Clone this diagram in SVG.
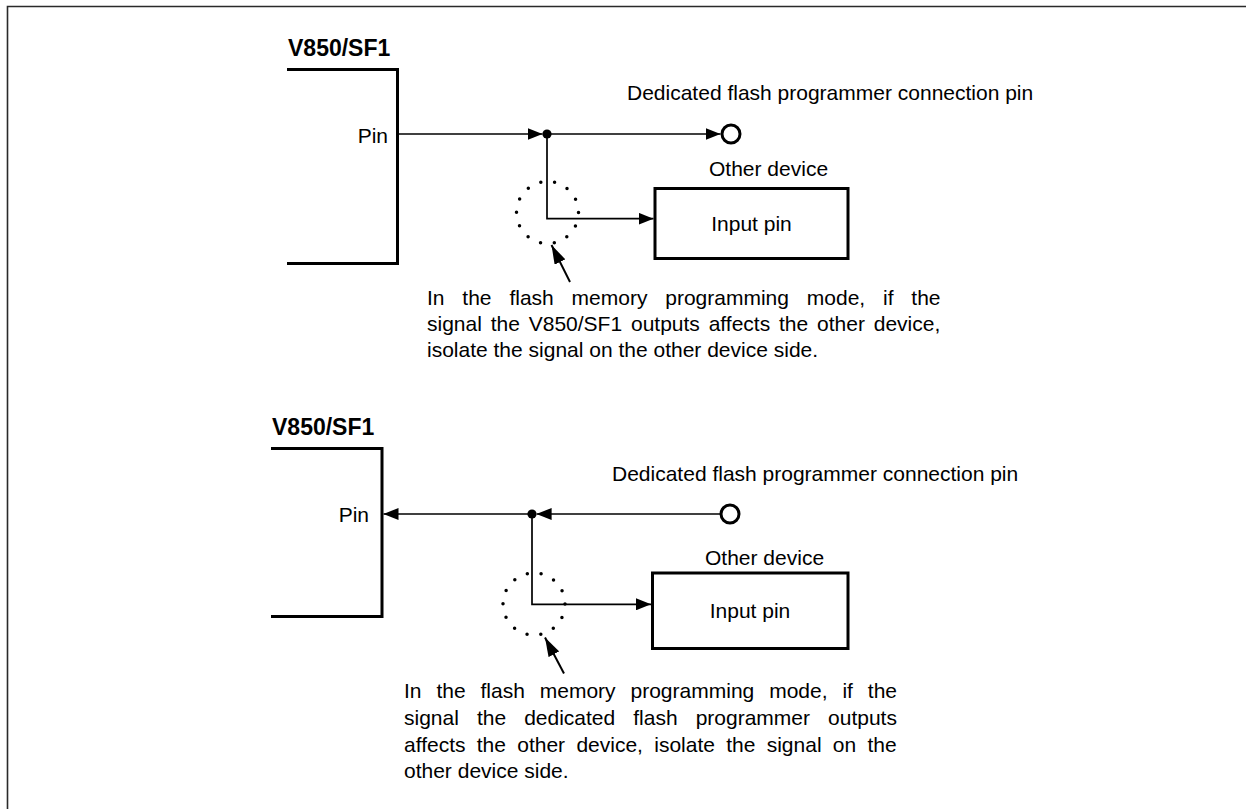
<svg xmlns="http://www.w3.org/2000/svg" width="1246" height="809" viewBox="0 0 1246 809">
<style>
  text { font-family: "Liberation Sans", Arial, sans-serif; fill: #000; }
  .lbl { font-size: 21px; }
  .ttl { font-size: 23px; font-weight: bold; }
  .par { font-size: 21px; }
  .chip { fill: none; stroke: #000; stroke-width: 3; }
  .box { fill: #fff; stroke: #000; stroke-width: 3; }
  .wire { fill: none; stroke: #000; stroke-width: 1.7; }
  .ptr { fill: none; stroke: #000; stroke-width: 2; }
  .term { fill: #fff; stroke: #000; stroke-width: 3; }
  .dotc { fill: none; stroke: #000; stroke-width: 3.5; stroke-linecap: round; stroke-dasharray: 0 13.91; }
  .frame { fill: none; stroke: #2a2a2a; stroke-width: 1.6; }
</style>
<defs>
  <marker id="arr" markerUnits="userSpaceOnUse" markerWidth="15" markerHeight="12" refX="15" refY="6" orient="auto">
    <path d="M0,0 L15,6 L0,12 z" fill="#000"/>
  </marker>
  <marker id="parr" markerUnits="userSpaceOnUse" markerWidth="19" markerHeight="12" refX="19" refY="6" orient="auto">
    <path d="M0,0 L19,6 L0,12 z" fill="#000"/>
  </marker>
</defs>
<rect width="1246" height="809" fill="#fff"/>
<path class="frame" d="M7.5,809 V6.5 H1246"/>

<!-- ===== Top figure ===== -->
<g id="chip1">
  <text class="ttl" x="288" y="56">V850/SF1</text>
  <path class="chip" d="M287,69.5 H397.5 V263.5 H287"/>
  <text class="lbl" x="388" y="143" text-anchor="end">Pin</text>
</g>
<g id="junction1"><circle cx="547" cy="134" r="4.6" fill="#000"/></g>
<g id="terminal1">
  <circle class="term" cx="731" cy="134" r="9"/>
  <text class="lbl" x="627" y="100">Dedicated flash programmer connection pin</text>
</g>
<g id="device1">
  <text class="lbl" x="709" y="176">Other device</text>
  <rect class="box" x="655" y="188.5" width="193" height="70"/>
  <text class="lbl" x="751.5" y="231" text-anchor="middle">Input pin</text>
</g>
<g id="isolate1">
  <circle class="dotc" cx="547.5" cy="212.5" r="31"/>
</g>
<g id="note1">
  <text class="par" x="427" y="305" word-spacing="12">In the flash memory programming mode, if the</text>
  <text class="par" x="427" y="331" word-spacing="3">signal the V850/SF1 outputs affects the other device,</text>
  <text class="par" x="427" y="357">isolate the signal on the other device side.</text>
</g>

<!-- ===== Bottom figure ===== -->
<g id="chip2">
  <text class="ttl" x="272" y="435">V850/SF1</text>
  <path class="chip" d="M271,448.5 H382 V616.5 H271"/>
  <text class="lbl" x="369" y="521.5" text-anchor="end">Pin</text>
</g>
<g id="junction2"><circle cx="532" cy="514" r="4.6" fill="#000"/></g>
<g id="terminal2">
  <circle class="term" cx="730" cy="514" r="9"/>
  <text class="lbl" x="612" y="480.5">Dedicated flash programmer connection pin</text>
</g>
<g id="device2">
  <text class="lbl" x="705" y="565">Other device</text>
  <rect class="box" x="652.5" y="573" width="195.5" height="75.5"/>
  <text class="lbl" x="750" y="618" text-anchor="middle">Input pin</text>
</g>
<g id="isolate2">
  <circle class="dotc" cx="534" cy="604" r="31"/>
</g>
<g id="note2">
  <text class="par" x="404" y="698.3" word-spacing="9.07">In the flash memory programming mode, if the</text>
  <text class="par" x="404" y="725" word-spacing="12.2">signal the dedicated flash programmer outputs</text>
  <text class="par" x="404" y="751.7" word-spacing="5.45">affects the other device, isolate the signal on the</text>
  <text class="par" x="404" y="778.3">other device side.</text>
</g>

<!-- ===== Connectors ===== -->
<g id="connectors">
  <line class="wire" x1="399" y1="134" x2="542.5" y2="134" marker-end="url(#arr)"/>
  <line class="wire" x1="547" y1="134" x2="720.5" y2="134" marker-end="url(#arr)"/>
  <path class="wire" d="M547,134 V218.7 H653.5" marker-end="url(#arr)"/>
  <line class="ptr" x1="570" y1="282" x2="551.5" y2="245" marker-end="url(#parr)"/>

  <line class="wire" x1="532" y1="514" x2="383.5" y2="514" marker-end="url(#arr)"/>
  <line class="wire" x1="720" y1="514" x2="536.6" y2="514" marker-end="url(#arr)"/>
  <path class="wire" d="M532,514 V604.3 H651" marker-end="url(#arr)"/>
  <line class="ptr" x1="564" y1="673.5" x2="545" y2="637.5" marker-end="url(#parr)"/>
</g>
</svg>
